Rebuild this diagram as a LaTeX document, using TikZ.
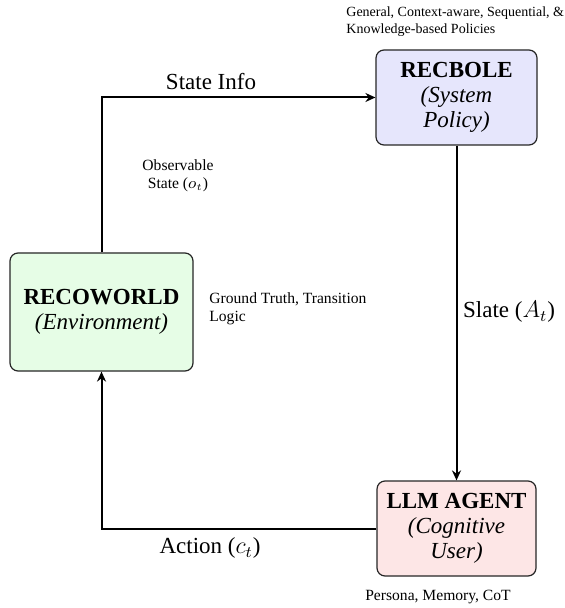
\documentclass[tikz,border=0pt]{standalone}
\usepackage{fontspec}
\setmainfont{Liberation Serif}
\usetikzlibrary{arrows.meta}
\begin{document}
\begin{tikzpicture}[x=0.5pt,y=-0.5pt,
  box/.style={draw=black!85, line width=0.6pt, rounded corners=4pt, align=center, inner sep=0pt,
    font=\fontsize{11.5}{12.5}\selectfont},
  conn/.style={line width=1pt, -{Stealth[length=5pt,width=4.5pt]}},
  lab/.style={font=\fontsize{11.5}{13}\selectfont, inner sep=0pt},
  note/.style={font=\fontsize{7.8}{9}\selectfont, inner sep=0pt}]
\useasboundingbox (0,0) rectangle (565,608);
\definecolor{cblue}{RGB}{230,230,252}
\definecolor{cgreen}{RGB}{230,253,230}
\definecolor{cred}{RGB}{253,230,230}

\node[box, fill=cblue, minimum width=80.5pt, minimum height=47.5pt] (recbole) at (456.5,97.5)
  {\textbf{RECBOLE}\\\textit{(System}\\\textit{Policy)}};
\node[box, fill=cgreen, minimum width=91.5pt, minimum height=59pt] (world) at (101.5,312)
  {\textbf{RECOWORLD}\\\textit{(Environment)}};
\node[box, fill=cred, minimum width=79.5pt, minimum height=47.5pt] (agent) at (456.5,528.5)
  {\textbf{LLM AGENT}\\\textit{(Cognitive}\\\textit{User)}};

\draw[conn] (world.north) |- (recbole.west);
\draw[conn] (recbole.south) -- (agent.north);
\draw[conn] (agent.west) -| (world.south);

\node[lab] (stateinfo) at (211,82) {State Info};
\node[note, align=center] (obs) at (178,176) {Observable\\State ($o_t$)};
\node[lab] (slate) at (509,312) {Slate ($A_t$)};
\node[lab] (action) at (210,548) {Action ($c_t$)};
\node[note, align=left, anchor=west] (gt) at (209,309) {Ground Truth, Transition\\Logic};
\node[note, anchor=north] (persona) at (438,590) {Persona, Memory, CoT};
\node[note, font=\fontsize{7}{8.4}\selectfont, align=left, anchor=west] (gen) at (346,22) {General, Context-aware, Sequential, \&\\Knowledge-based Policies};
\end{tikzpicture}
\end{document}
